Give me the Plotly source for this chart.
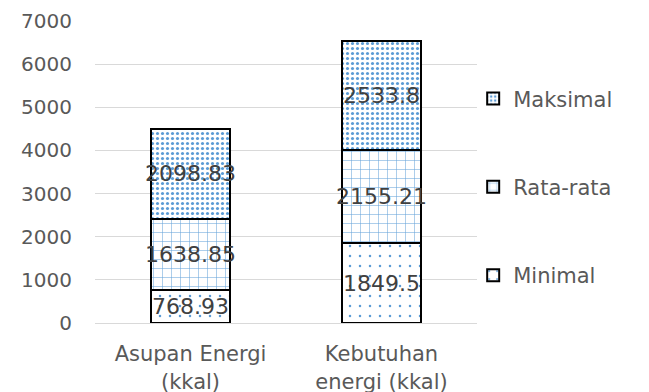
import plotly.graph_objects as go

# Category labels (x axis) and stacked series values
categories = ["Asupan Energi<br>(kkal)", "Kebutuhan<br>energi (kkal)"]
minimal = [768.93, 1849.5]
rata_rata = [1638.85, 2155.21]
maksimal = [2098.83, 2533.8]

tick_vals = [0, 1000, 2000, 3000, 4000, 5000, 6000, 7000]

FONT = "DejaVu Sans"
TEXT_GREY = "#595959"
LABEL_GREY = "#404040"
BLUE = "#5B9BD5"

# name, values, fill pattern, legend rank (top to bottom)
series = [
    ("Minimal", minimal, dict(shape=".", size=10, solidity=0.05), 3),
    ("Rata-rata", rata_rata, dict(shape="+", size=9, solidity=0.12, fgopacity=0.9), 2),
    ("Maksimal", maksimal, dict(shape=".", size=5, solidity=0.3), 1),
]

fig = go.Figure()
for name, values, pat, rank in series:
    fig.add_trace(go.Bar(
        name=name,
        x=categories,
        y=values,
        legendgroup=name,
        legendrank=rank,
        text=[f"{v:g}" for v in values],
        textposition="inside",
        insidetextanchor="middle",
        textangle=0,
        constraintext="none",
        cliponaxis=False,
        textfont=dict(family=FONT, size=22, color=LABEL_GREY),
        marker=dict(
            color="white",
            line=dict(color="black", width=2),
            pattern=dict(fgcolor=BLUE, bgcolor="white", fillmode="replace", **pat),
        ),
    ))

fig.update_layout(
    barmode="stack",
    bargap=0.59,
    width=649,
    height=392,
    margin=dict(l=95, r=172, t=21, b=69),
    paper_bgcolor="white",
    plot_bgcolor="white",
    font=dict(family=FONT, size=18, color=TEXT_GREY),
    showlegend=True,
    legend=dict(
        x=0.99, xanchor="left",
        y=0.81, yanchor="top",
        traceorder="grouped",
        tracegroupgap=58,
        font=dict(family=FONT, size=21, color=TEXT_GREY),
        bgcolor="rgba(0,0,0,0)",
    ),
)

fig.update_yaxes(
    range=[0, 7000],
    tickvals=tick_vals,
    ticks="",
    showgrid=True,
    gridcolor="#D9D9D9",
    gridwidth=1,
    zeroline=False,
    showline=False,
    automargin=False,
    ticklabelstandoff=22,
    tickfont=dict(family=FONT, size=20, color=TEXT_GREY),
)
fig.update_xaxes(
    ticks="",
    showline=True,
    linecolor="#D9D9D9",
    linewidth=1,
    automargin=False,
    tickfont=dict(family=FONT, size=21, color=TEXT_GREY),
    ticklabelstandoff=12,
)

fig.write_html("out.html")
